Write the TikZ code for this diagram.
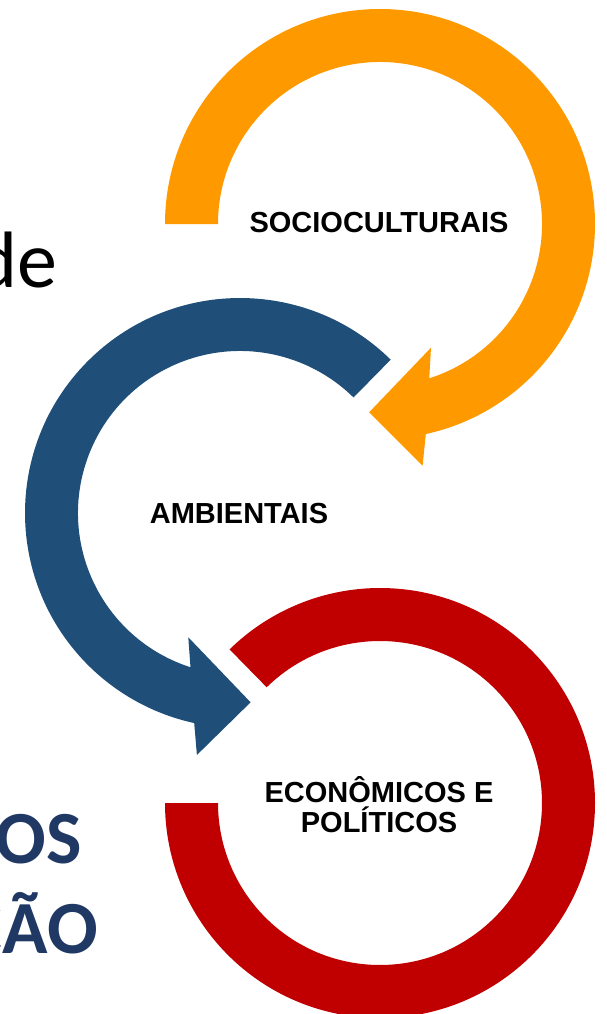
\documentclass[tikz,border=0pt]{standalone}
\usepackage{fontspec}
\setmainfont{Liberation Sans}
\newfontfamily\titlefont{Carlito}
\usetikzlibrary{calc}
\definecolor{socorange}{RGB}{255,153,0}
\definecolor{ambblue}{RGB}{31,78,121}
\definecolor{ecored}{RGB}{192,0,0}
\definecolor{titlenavy}{RGB}{31,56,100}
\tikzset{ring label/.style={font=\fontsize{29}{30}\selectfont\bfseries,align=center,inner sep=0pt}}
\tikzset{title part/.style={font=\titlefont\fontsize{75}{90}\selectfont\bfseries,text=titlenavy,anchor=base east,inner sep=0pt}}

\begin{document}
\begin{tikzpicture}[x=1pt,y=-1pt]
\useasboundingbox (0,0) rectangle (606,1014);
\clip (0,0) rectangle (606,1014);
% centres of the three rings
\coordinate (soc) at (380,224);
\coordinate (amb) at (240,513);
\coordinate (eco) at (380,803);
% bits of the slide title, cut by the left edge
\node[title part,font=\titlefont\fontsize{80}{90}\selectfont,text=black] (de) at (58,287) {de};
\node[title part] (os) at (82,863) {OS};
\node[title part] (cao) at (98,953) {ÇÃO};
% orange ring with its arrow head
\fill[socorange] ($(soc)+(180:215)$) arc[start angle=180,end angle=437.7,radius=215]
    -- ($(soc)+(80:245.4)$) -- ($(soc)+(93.3:188.6)$) -- ($(soc)+(67.6:133.8)$)
    -- ($(soc)+(72.3:162)$) arc[start angle=432.3,end angle=180,radius=162] -- cycle;
% blue ring with its arrow head
\fill[ambblue] ($(amb)+(-45.5:215)$) arc[start angle=-45.5,end angle=-257.7,radius=215]
    -- ($(amb)+(100.1:245.8)$) -- ($(amb)+(86.8:189.6)$) -- ($(amb)+(112.6:134.6)$)
    -- ($(amb)+(107.8:162)$) arc[start angle=-252.2,end angle=-45.5,radius=162] -- cycle;
% red ring, no head
\fill[ecored] ($(eco)+(180:215)$) arc[start angle=180,end angle=-134.4,radius=215]
    -- ($(eco)+(-134.4:162)$) arc[start angle=-134.4,end angle=180,radius=162] -- cycle;
\node[ring label] (socio) at (379,222.5) {SOCIOCULTURAIS};
\node[ring label] (ambi) at (239,514) {AMBIENTAIS};
\node[ring label,anchor=base] (econ) at (379,832) {ECONÔMICOS E\\POLÍTICOS};
\end{tikzpicture}
\end{document}
